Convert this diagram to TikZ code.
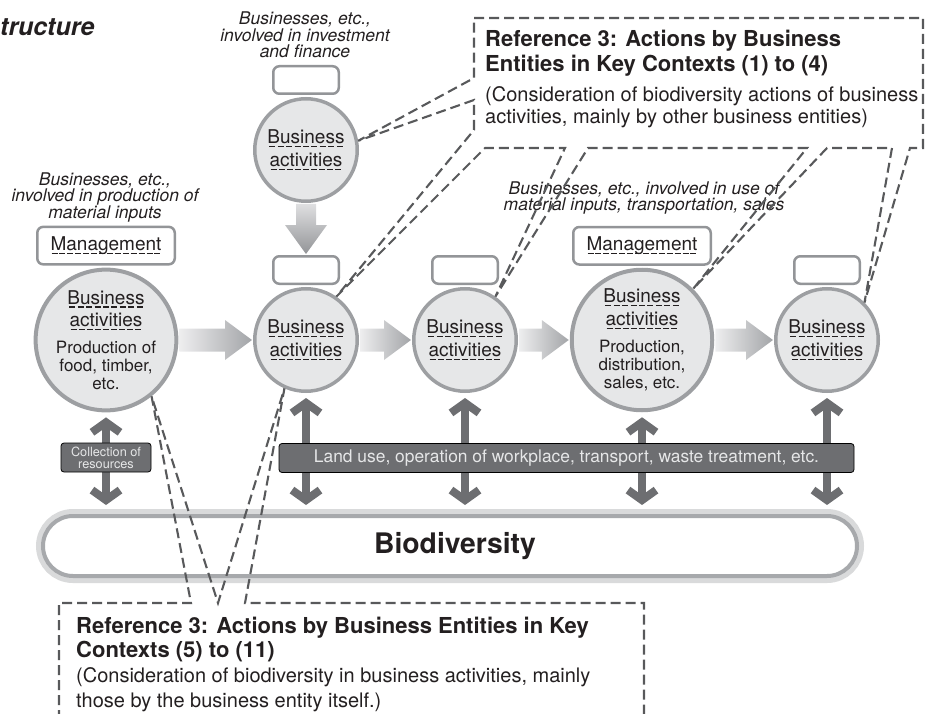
\documentclass[tikz,border=0pt]{standalone}
\usepackage{fontspec}
\setmainfont{TeX Gyre Heros}
\usetikzlibrary{positioning,calc,arrows.meta}

\definecolor{circfill}{HTML}{E6E7E8}
\definecolor{circline}{HTML}{9D9FA2}
\definecolor{boxline}{HTML}{939598}
\definecolor{darkbar}{HTML}{6D6E71}
\definecolor{dashline}{HTML}{58595B}
\definecolor{bartext}{HTML}{E6E7E8}
\definecolor{arrlight}{HTML}{EEEEEF}
\definecolor{arrdark}{HTML}{A3A5A8}
\definecolor{halo}{HTML}{D9DADB}
\definecolor{pillline}{HTML}{A7A9AC}
\definecolor{txt}{HTML}{231F20}

\newcommand{\fs}[2]{\fontsize{#1}{#2}\selectfont}
% dashed underline
\newcommand{\dul}[1]{\setbox0=\hbox{#1}\rlap{\raisebox{-3.5pt}{\hbox to \wd0{\xleaders\hbox{\kern0.9pt\vrule width 6pt height 1.1pt\kern0.9pt}\hfil}}}\box0}
\newcommand{\bizact}{\dul{Business}\\[4.5pt]\dul{activities}}
\newcommand{\flowarrow}[2]
{
  \path[flowarr] let \p1 = (#1.east), \p2 = (#2.west) in
    (\x1+1pt,\y1+11.5pt) -- (\x2-28pt,\y1+11.5pt) -- (\x2-28pt,\y1+20pt) -- (\x2-1pt,\y1)
    -- (\x2-28pt,\y1-20pt) -- (\x2-28pt,\y1-11.5pt) -- (\x1+1pt,\y1-11.5pt) -- cycle;
}

\tikzstyle{activity} = [circle, draw=circline, fill=circfill, line width=3.5pt, inner sep=0pt, align=center, text=txt, font=\fs{19}{18}]
\tikzstyle{bigact} = [activity, minimum size=140.5pt, line width=4pt]
\tikzstyle{smallact} = [activity, minimum size=102.5pt]
\tikzstyle{mgmt} = [rectangle, rounded corners=6pt, draw=boxline, fill=white, line width=2.5pt, minimum width=137.5pt, minimum height=37.5pt, font=\fs{19}{20}, text=txt]
\tikzstyle{emptybox} = [mgmt, minimum width=65.5pt, minimum height=27.5pt]
\tikzstyle{annot} = [align=center, font=\fs{17.5}{16.5}\itshape, text=txt]
\tikzstyle{darkbox} = [rectangle, rounded corners=3pt, fill=darkbar, draw=black, line width=0.8pt, text=bartext]
\tikzstyle{flowarr} = [left color=arrlight, right color=arrdark]
\tikzstyle{downarr} = [top color=arrlight!80!arrdark, bottom color=arrdark!90!black]
\tikzstyle{impact} = [line width=8pt, draw=darkbar, {Straight Barb[length=10pt,width=28pt]}-{Straight Barb[length=10pt,width=28pt]}]
\tikzstyle{callout} = [draw=dashline, line width=2.1pt, dash pattern=on 10pt off 5pt]
\tikzstyle{refhead} = [anchor=base west, inner sep=0pt, align=left, font=\fs{22}{25}\bfseries, text=txt]
\tikzstyle{refnote} = [anchor=base west, inner sep=0pt, align=left, font=\fs{20}{22}, text=txt]

\begin{document}
\begin{tikzpicture}[x=1pt, y=-1pt]
	\useasboundingbox (0,0) rectangle (926,714);

	\node[anchor=base west, inner sep=0pt, font=\fs{25}{25}\bfseries\itshape, text=txt] (title) at (0,36) {tructure};

	% business activities along the chain
	\node[smallact] (ctop) at (306,150) {\bizact};
	\node[bigact] (c1) at (106,340) {\bizact\\[9pt]\fs{17}{18}Production of\\\fs{17}{18}food, timber,\\\fs{17}{18}etc.};
	\node[smallact] (c2) at (306,340) {\bizact};
	\node[smallact] (c3) at (465,340) {\bizact};
	\node[bigact] (c4) at (642,340) {\bizact\\[9pt]\fs{17}{18}Production,\\\fs{17}{18}distribution,\\\fs{17}{18}sales, etc.};
	\node[smallact] (c5) at (827,340) {\bizact};

	\node[emptybox, above=2pt of ctop] (btop) {};
	\node[mgmt, above=2pt of c1] (mg1) {\dul{Management}};
	\node[emptybox, above=2pt of c2] (b2) {};
	\node[emptybox, above=2pt of c3] (b3) {};
	\node[mgmt, above=2pt of c4] (mg4) {\dul{Management}};
	\node[emptybox, above=2pt of c5] (b5) {};

	\node[annot] (ainv) at (305,35) {Businesses, etc.,\\involved in investment\\and finance};
	\node[annot] (aprod) at (105,197) {Businesses, etc.,\\involved in production of\\material inputs};
	\node[annot] (ause) at (644,198) {Businesses, etc., involved in use of\\material inputs, transportation, sales};

	% flows
	\flowarrow{c1}{c2}
	\flowarrow{c2}{c3}
	\flowarrow{c3}{c4}
	\flowarrow{c4}{c5}
	\path[downarr] let \p1 = (ctop.south), \p2 = (b2.north) in
		(\x1-10pt,\y1-1pt) -- (\x1-10pt,\y2+30pt) -- (\x1-21pt,\y2+30pt) -- (\x1,\y2+1pt)
		-- (\x1+21pt,\y2+30pt) -- (\x1+10pt,\y2+30pt) -- (\x1+10pt,\y1-1pt) -- cycle;

	% biodiversity
	\node[rectangle, rounded corners=30pt, minimum width=814pt, minimum height=60pt, fill=white, draw=pillline, line width=4pt,
		preaction={draw=halo, line width=14pt}, font=\fs{28.3}{30}\bfseries, text=txt] (bio) at (450,546) {\hspace*{10pt}Biodiversity};

	\foreach \c in {c1,c2,c3,c4,c5}
		\draw[impact, shorten >=9pt] ([yshift=-5pt]\c.south) -- (\c.south |- bio.north);

	\node[darkbox, minimum width=90pt, minimum height=29pt, align=center, font=\fs{12.7}{12}] (collect) at (106,457.5) {Collection of\\resources};
	\node[darkbox, minimum width=575pt, minimum height=29pt, font=\fs{17.4}{18}] (landuse) at (566.5,458) {Land use, operation of workplace, transport, waste treatment, etc.};

	% reference boxes
	\draw[callout] (474,18) -- (923,18) -- (923,148) -- (910,148) -- (c5.45) -- (892,148) -- (827,148) -- (c4.45) -- (807,148)
		-- (588,148) -- (c3.55) -- (565,148) -- (485,148) -- (c2.55) -- (474,130) -- (474,100) -- (ctop.10) -- (474,78) -- cycle;
	\node[refhead] (ref1) at (485,72) {Reference 3: Actions by Business\\Entities in Key Contexts (1) to (4)};
	\node[refnote] (ref1note) at (485,124) {(Consideration of biodiversity actions of business\\activities, mainly by other business entities)};

	\draw[callout] (59,720) -- (59,603) -- (191,603) -- (c1.-51) -- (218,603) -- (c2.-114) -- (245,603) -- (644,603) -- (644,720);
	\node[refhead, font=\fs{22}{24}\bfseries] (ref2) at (76,657) {Reference 3: Actions by Business Entities in Key\\Contexts (5) to (11)};
	\node[refnote, font=\fs{20}{25}] (ref2note) at (76,707) {(Consideration of biodiversity in business activities, mainly\\those by the business entity itself.)};

\end{tikzpicture}
\end{document}
